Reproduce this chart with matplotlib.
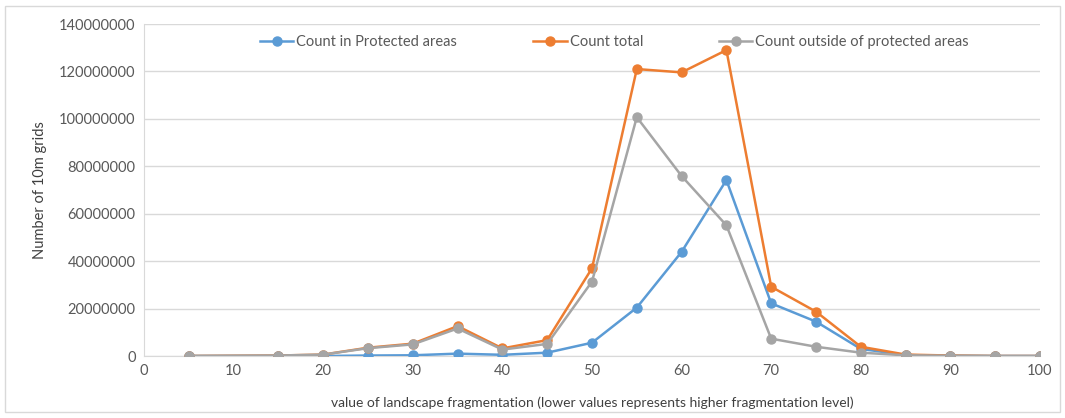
import numpy as np
import matplotlib
matplotlib.use("Agg")
import matplotlib.pyplot as plt
from matplotlib.patches import Rectangle

plt.rcParams['font.family'] = ['Lato', 'DejaVu Sans']

# landscape fragmentation values
frag = [5, 15, 20, 25, 30, 35, 40, 45, 50, 55, 60, 65, 70, 75, 80, 85, 90, 95, 100]

# counts of 10m grids
count_protected = [0, 0, 0, 200000, 300000, 1000000, 500000, 1400000, 5600000, 20400000,
                   43900000, 74200000, 22200000, 14500000, 3000000, 400000, 100000, 0, 0]
count_total = [0, 200000, 600000, 3500000, 5200000, 12600000, 3200000, 6700000, 37000000,
               121000000, 119600000, 129000000, 29200000, 18700000, 3900000, 600000, 200000, 0, 0]
count_outside = [0, 200000, 600000, 3300000, 4900000, 11600000, 2700000, 5100000, 31400000,
                 100700000, 75900000, 55100000, 7300000, 3900000, 1400000, 300000, 100000, 0, 0]

yticks = [0, 20000000, 40000000, 60000000, 80000000, 100000000, 120000000, 140000000]
xticks = [0, 10, 20, 30, 40, 50, 60, 70, 80, 90, 100]

fig = plt.figure(figsize=(10.65, 4.18), dpi=100)
ax = fig.add_axes([144/1065, 1-356/418, (1040-144)/1065, (356-24)/418])

# outer chart border
fig.patches.append(Rectangle((5/1065, 6/418), 1055/1065, 406/418, transform=fig.transFigure,
                             fill=False, edgecolor='#D9D9D9', linewidth=1))

ax.plot(frag, count_protected, color='#5B9BD5', marker='o', markersize=6.5, linewidth=1.8,
        label='Count in Protected areas', zorder=3)
ax.plot(frag, count_total, color='#ED7D31', marker='o', markersize=6.5, linewidth=1.8,
        label='Count total', zorder=3)
ax.plot(frag, count_outside, color='#A5A5A5', marker='o', markersize=6.5, linewidth=1.8,
        label='Count outside of protected areas', zorder=4)

ax.set_xlim(0, 100)
ax.set_ylim(0, 140000000)
ax.set_xticks(xticks)
ax.set_yticks(yticks)
ax.set_yticklabels([str(v) for v in yticks])
ax.tick_params(axis='both', labelsize=10.5, colors='#595959', length=0, pad=6)
ax.yaxis.grid(True, color='#D9D9D9', linewidth=1)
ax.set_axisbelow(True)
for s in ['top', 'right']:
    ax.spines[s].set_visible(False)
ax.spines['left'].set_color('#D9D9D9')
ax.spines['bottom'].set_color('#D9D9D9')

ax.set_xlabel('value of landscape fragmentation (lower values represents higher fragmentation level)',
              fontsize=10, color='#404040', labelpad=13)
ax.set_ylabel('Number of 10m grids', fontsize=10.5, color='#404040', labelpad=9)

leg = ax.legend(loc='upper center', ncol=3, frameon=False, fontsize=10.5,
                bbox_to_anchor=(0.525, 1.005), columnspacing=5.2, handlelength=2.3,
                handletextpad=0.2)
for t in leg.get_texts():
    t.set_color('#595959')

fig.savefig('out.png', dpi=100)
